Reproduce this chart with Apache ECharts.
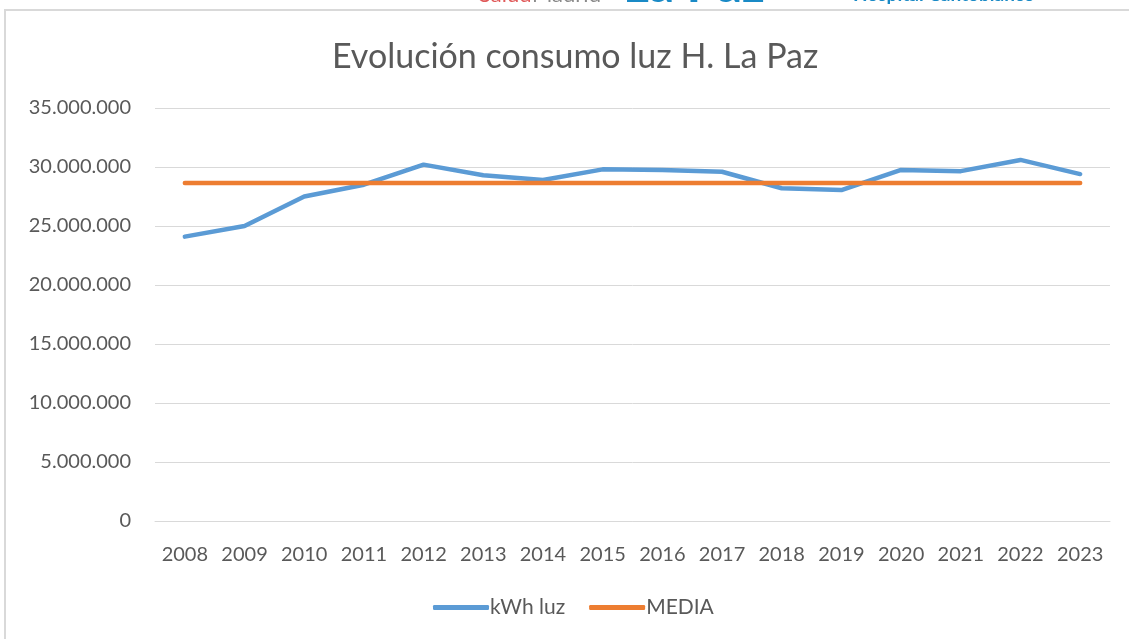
<!DOCTYPE html>
<html>
<head>
<meta charset="utf-8">
<script src="https://cdn.jsdelivr.net/npm/echarts@6/dist/echarts.min.js"></script>
<style>
  html, body { margin: 0; padding: 0; background: #fff; }
  #chart { width: 1129px; height: 639px; }
</style>
</head>
<body>
<div id="chart"></div>
<script>
const years = ['2008', '2009', '2010', '2011', '2012', '2013', '2014', '2015',
  '2016', '2017', '2018', '2019', '2020', '2021', '2022', '2023']
const kwhLuz = [24100000, 25000000, 27500000, 28500000, 30200000, 29300000, 28900000, 29800000,
  29750000, 29600000, 28200000, 28050000, 29750000, 29650000, 30600000, 29400000]
const media = [28640000, 28640000, 28640000, 28640000, 28640000, 28640000, 28640000, 28640000,
  28640000, 28640000, 28640000, 28640000, 28640000, 28640000, 28640000, 28640000]

const fmt = v => String(Math.round(v)).replace(/\B(?=(\d{3})+(?!\d))/g, '.')
const font = 'Lato, "Open Sans", sans-serif'

const chart = echarts.init(document.getElementById('chart'))

chart.setOption({
  animation: false,
  textStyle: { fontFamily: font },
  title: {
    text: 'Evolución consumo luz H. La Paz',
    left: 327,
    top: 35,
    textStyle: { color: '#595959', fontSize: 34, fontWeight: 'normal', fontFamily: font }
  },
  graphic: [
    {
      type: 'rect',
      shape: { x: 5, y: 10, width: 1200, height: 700 },
      style: { fill: 'none', stroke: '#d9d9d9', lineWidth: 2 },
      silent: true
    },
    // logo cropped above the chart frame
    { type: 'text', left: 479, top: -16, style: { text: 'Salud', fill: '#e05a5a', fontSize: 22, fontFamily: font } },
    { type: 'text', left: 532, top: -16, style: { text: 'Madrid', fill: '#8a8a8a', fontSize: 22, fontFamily: font } },
    { type: 'text', left: 623, top: -39, style: { text: 'La Paz', fill: '#1a8ac6', fontSize: 50, fontWeight: 'bold', fontFamily: font } },
    { type: 'text', left: 853, top: -15, style: { text: 'Hospital Cantoblanco', fill: '#1a8ac6', fontSize: 19, fontWeight: 'bold', fontFamily: font } }
  ],
  legend: {
    bottom: 16,
    left: 428,
    itemWidth: 56,
    itemHeight: 5,
    itemGap: 24,
    icon: 'roundRect',
    textStyle: { color: '#595959', fontSize: 21, padding: [0, 0, 0, -4] },
    data: ['kWh luz', 'MEDIA']
  },
  grid: {
    left: 155,
    right: 19,
    top: 108,
    bottom: 118
  },
  xAxis: {
    type: 'category',
    data: years,
    boundaryGap: true,
    axisLine: { lineStyle: { color: '#d9d9d9', width: 1 } },
    axisTick: { show: false },
    axisLabel: { color: '#595959', fontSize: 20, margin: 24, interval: 0 }
  },
  yAxis: {
    type: 'value',
    min: 0,
    max: 35000000,
    interval: 5000000,
    axisLine: { show: false },
    axisTick: { show: false },
    axisLabel: { color: '#595959', fontSize: 20, margin: 24, formatter: fmt },
    splitLine: { lineStyle: { color: '#d9d9d9', width: 1 } }
  },
  series: [
    {
      name: 'kWh luz',
      type: 'line',
      data: kwhLuz,
      symbol: 'none',
      lineStyle: { color: '#5b9bd5', width: 4.5, cap: 'round', join: 'round' },
      itemStyle: { color: '#5b9bd5' },
      z: 2
    },
    {
      name: 'MEDIA',
      type: 'line',
      data: media,
      symbol: 'none',
      lineStyle: { color: '#ed7d31', width: 4.5, cap: 'round' },
      itemStyle: { color: '#ed7d31' },
      z: 3
    }
  ]
})
</script>
</body>
</html>
